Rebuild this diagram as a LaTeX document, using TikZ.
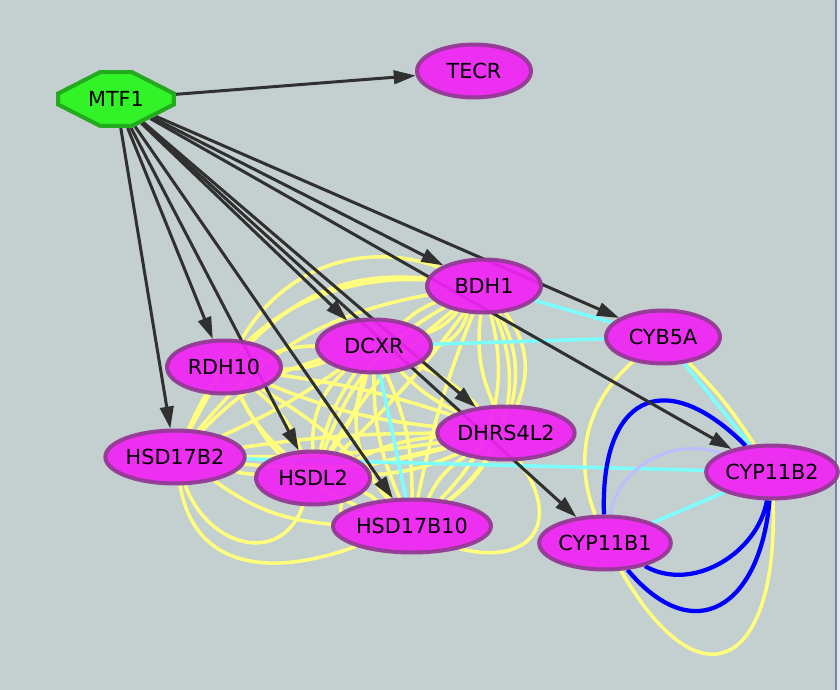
\documentclass[tikz,border=0pt]{standalone}
\usepackage{fontspec}
\usepackage{tikz}
\usetikzlibrary{arrows.meta,shapes.geometric,shapes.misc}
\newfontfamily\genefont{DejaVu Sans}
\definecolor{bgcol}{RGB}{196,207,207}
\definecolor{genefill}{RGB}{240,34,244}
\definecolor{genedraw}{RGB}{148,58,150}
\definecolor{tffill}{RGB}{50,242,40}
\definecolor{tfdraw}{RGB}{36,170,30}
\definecolor{ppiyellow}{RGB}{255,255,125}
\definecolor{ppicyan}{RGB}{125,255,255}
\definecolor{ppiblue}{RGB}{0,0,255}
\definecolor{ppilav}{RGB}{190,190,255}
\definecolor{regedge}{RGB}{48,48,48}
\definecolor{framecol}{RGB}{120,130,170}
\pgfdeclarelayer{bg}
\pgfdeclarelayer{edges}
\pgfsetlayers{bg,edges,main}
\tikzset{
  gnode/.style = {align=center, inner sep=0pt, text centered,
    font=\genefont\fontsize{11.8}{14}\selectfont},
  gene_n/.style = {gnode, ellipse, draw=genedraw, fill=genefill,
    line width=0.08cm, minimum width=2.28cm, minimum height=1.06cm,
    fill opacity=0.92, draw opacity=0.95, text opacity=1},% gene, target
  tf_n/.style = {gnode, chamfered rectangle, chamfered rectangle angle=63,
    chamfered rectangle xsep=0.7cm, chamfered rectangle ysep=0.28cm,
    draw=tfdraw, fill=tffill, line width=0.08cm, minimum width=2.32cm,
    minimum height=1.08cm},% factor
  reg_e/.style = {->, draw=regedge, line width=0.06cm},% regulation, arrow
  ppi_y/.style = {draw=ppiyellow, line width=0.07cm},% yellow link
  ppi_c/.style = {draw=ppicyan, line width=0.07cm},% cyan link
  ppi_b/.style = {draw=ppiblue, line width=0.085cm},% blue link
  ppi_l/.style = {draw=ppilav, line width=0.06cm}% lavender link
}

\begin{document}
\begin{tikzpicture}[x=0.02cm, y=-0.02cm, >={Triangle[length=0.44cm,width=0.27cm]}]
\useasboundingbox (0,0) rectangle (840,690);
\begin{pgfonlayer}{bg}
\fill[bgcol] (0,0) rectangle (840,690);
\fill[white!80!framecol] (836,0) rectangle (840,690);
\draw[framecol, line width=0.04cm] (836,0) -- (836,690);
\end{pgfonlayer}

\node [tf_n] (mtf) at (116,99) {MTF1};
\node [gene_n] (tecr) at (474,71) {TECR};
\node [gene_n] (bdh) at (484,286) {BDH1};
\node [gene_n] (dcxr) at (374,346) {DCXR};
\node [gene_n] (rdh) at (224,367) {RDH10};
\node [gene_n] (cyb) at (663,337) {CYB5A};
\node [gene_n] (dhrs) at (506,433) {DHRS4L2};
\node [gene_n] (hsdb2) at (175,457) {HSD17B2};
\node [gene_n] (hsdl) at (313,478) {HSDL2};
\node [gene_n] (hsdb10) at (412,526) {HSD17B10};
\node [gene_n] (cypb1) at (605,543) {CYP11B1};
\node [gene_n] (cypb2) at (772,472) {CYP11B2};

\begin{pgfonlayer}{edges}
% yellow links of the cluster
\foreach \a/\b/\t in {rdh/bdh/40, rdh/bdh/25, rdh/dcxr/8, rdh/dcxr/-10,
    rdh/hsdb2/0, rdh/hsdl/15, rdh/hsdl/-10, rdh/hsdb10/10, rdh/hsdb10/-20,
    rdh/dhrs/5, rdh/dhrs/-8, hsdb2/bdh/35, hsdb2/bdh/20, hsdb2/dcxr/15,
    hsdb2/dcxr/-5, hsdb2/hsdl/-5, hsdb2/hsdb10/-15, hsdb2/dhrs/4,
    hsdb2/dhrs/-4, hsdb2/dhrs/-10, hsdl/dcxr/10, hsdl/dcxr/-10,
    hsdl/dcxr/25, hsdl/bdh/10, hsdl/bdh/-5, hsdl/bdh/20, hsdl/dhrs/10,
    hsdl/dhrs/-10, hsdl/dhrs/0, hsdl/hsdb10/10, hsdl/hsdb10/-15,
    dcxr/bdh/10, dcxr/bdh/-15, dcxr/bdh/-30, dcxr/dhrs/10, dcxr/dhrs/-10,
    dcxr/hsdb10/12, dcxr/hsdb10/-12, dcxr/hsdb10/-30, bdh/dhrs/20,
    bdh/dhrs/-15, bdh/dhrs/30, bdh/hsdb10/30, bdh/hsdb10/38, bdh/hsdb10/-5,
    dhrs/hsdb10/10, dhrs/hsdb10/-15}
  \draw [ppi_y] (\a) to[bend left=\t] (\b);
\draw [ppi_y] (hsdb2) to[out=-70, in=-110, looseness=1.4] (hsdl);
\draw [ppi_y] (hsdb2) to[out=-80, in=-160, looseness=1.2] (hsdb10);
\draw [ppi_y] (dhrs) to[bend left=70, looseness=1.8] (hsdb10);
% yellow links on the right
\draw [ppi_y] (cyb) to[bend right=35] (cypb1);
\draw [ppi_y] (cyb) to[bend left=6] (cypb2);
\draw [ppi_y] (cypb1) to[out=-60, in=-88, looseness=2.5] (cypb2);
% cyan links
\draw [ppi_c] (bdh) -- (cyb);
\draw [ppi_c] (dcxr) -- (cyb);
\draw [ppi_c] (dcxr) -- (hsdb10);
\draw [ppi_c] (hsdb2) -- (cypb2);
\draw [ppi_c] (cyb) -- (cypb2);
\draw [ppi_c] (cypb1) -- (cypb2);
% blue and lavender links
\draw [ppi_b] (cypb1) to[out=92, in=135, looseness=1.9] (cypb2);
\draw [ppi_b] (cypb1) to[out=-30, in=-100] (cypb2);
\draw [ppi_b] (cypb1) to[out=-50, in=-95, looseness=1.7] (cypb2);
\draw [ppi_l] (cypb1) to[out=80, in=160] (cypb2);
% regulation arrows
\foreach \t in {tecr, bdh, cyb, cypb2, dcxr, rdh, hsdb2, hsdl, hsdb10,
    dhrs, cypb1}
  \draw [reg_e] (mtf) -- (\t);
\end{pgfonlayer}
\end{tikzpicture}
\end{document}
